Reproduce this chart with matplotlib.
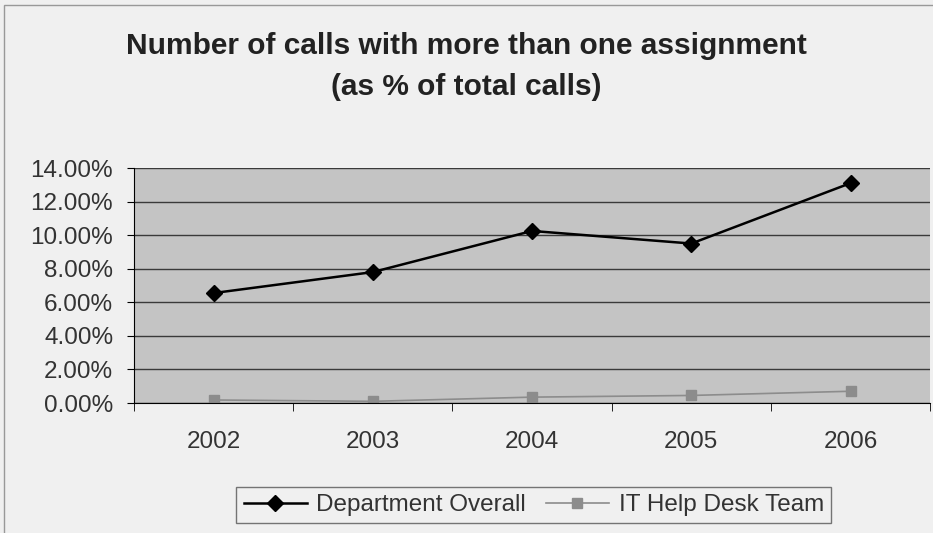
import numpy as np
import matplotlib.pyplot as plt
from matplotlib.ticker import FuncFormatter, FixedLocator

plt.rcParams['font.family'] = ['Liberation Sans', 'DejaVu Sans']

years = ['2002', '2003', '2004', '2005', '2006']
dept_overall = [6.55, 7.8, 10.25, 9.5, 13.1]
it_help_desk = [0.18, 0.1, 0.35, 0.45, 0.7]

fig = plt.figure(figsize=(9.33, 5.33), dpi=100, facecolor='#f0f0f0')
ax = fig.add_axes([0.1436, 0.2439, 0.8534, 0.4409])
ax.set_facecolor('#c4c4c4')

x = np.arange(len(years))
ax.plot(x, dept_overall, color='black', linewidth=1.8, marker='D',
        markersize=8, label='Department Overall')
ax.plot(x, it_help_desk, color='#8c8c8c', linewidth=1.2, marker='s',
        markersize=7, label='IT Help Desk Team')

ax.set_xlim(-0.5, len(years) - 0.5)
ax.set_ylim(0, 14)
ax.set_yticks(np.arange(0, 14.1, 2))
ax.yaxis.set_major_formatter(FuncFormatter(lambda v, p: f'{v:.2f}%'))
ax.grid(axis='y', color='#3a3a3a', linewidth=1.0)
ax.set_axisbelow(True)

# category labels centred, tick marks on the boundaries
ax.set_xticks(x)
ax.set_xticklabels(years)
ax.tick_params(axis='x', which='major', length=0, pad=20, labelsize=17.5,
               labelcolor='#333333')
ax.xaxis.set_minor_locator(FixedLocator(np.arange(-0.5, len(years), 1)))
ax.tick_params(axis='x', which='minor', length=6, color='black')
ax.tick_params(axis='y', length=5, pad=10, labelsize=17.5, colors='black',
               labelcolor='#333333')

for side in ['top', 'right']:
    ax.spines[side].set_visible(False)
ax.spines['left'].set_color('black')
ax.spines['bottom'].set_color('black')

fig.text(0.5, 0.913, 'Number of calls with more than one assignment',
         ha='center', va='center', fontsize=21.5, fontweight='bold',
         color='#222222')
fig.text(0.5, 0.836, '(as % of total calls)', ha='center', va='center',
         fontsize=21.5, fontweight='bold', color='#222222')

leg = fig.legend(loc='center', bbox_to_anchor=(0.572, 0.0525),
                 ncol=2, frameon=True, fontsize=17.5, fancybox=False,
                 handlelength=2.6, columnspacing=0.8, handletextpad=0.4,
                 borderpad=0.3)
leg.get_frame().set_edgecolor('#555555')
leg.get_frame().set_facecolor('#f0f0f0')
for t in leg.get_texts():
    t.set_color('#333333')

# outer chart border
fig.patches.append(plt.Rectangle((0.004, -0.01), 1.0, 1.0, transform=fig.transFigure,
                                 fill=False, edgecolor='#999999', linewidth=1))

fig.savefig('out.png', dpi=100, facecolor=fig.get_facecolor())
